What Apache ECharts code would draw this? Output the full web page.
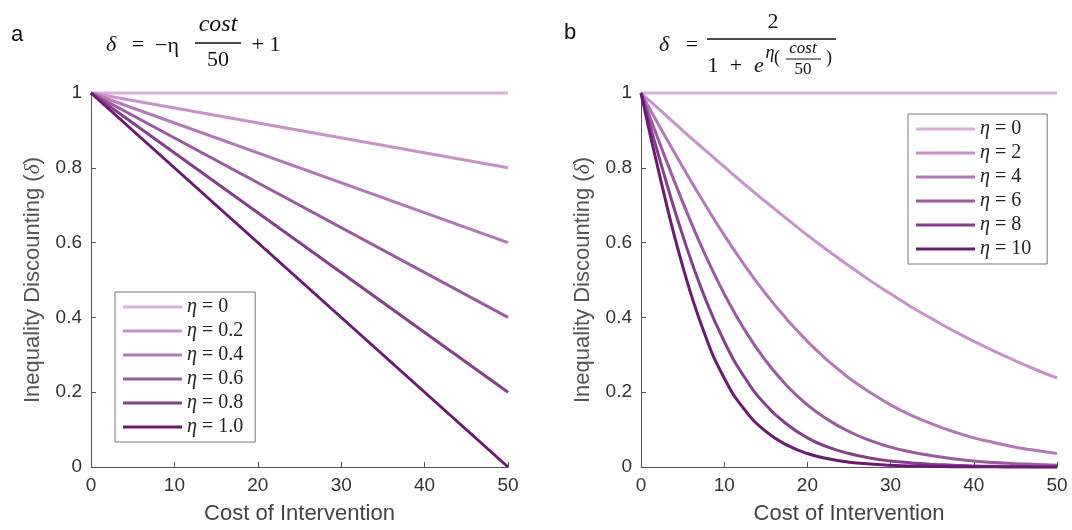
<!DOCTYPE html>
<html>
<head>
<meta charset="utf-8">
<script src="https://cdn.jsdelivr.net/npm/echarts@6/dist/echarts.min.js"></script>
<style>
  html, body { margin: 0; padding: 0; background: #fff; }
  #chart { width: 1072px; height: 530px; }
</style>
</head>
<body>
<div id="chart"></div>
<script>
// panel a: straight lines, read at both ends
var costA = [0, 50];
var etaA = ['0', '0.2', '0.4', '0.6', '0.8', '1.0'];
var linA = [
  [1, 1],
  [1, 0.8],
  [1, 0.6],
  [1, 0.4],
  [1, 0.2],
  [1, 0]
];

// panel b: curves, read every 2.5 of cost
var costB = [0, 2.5, 5, 7.5, 10, 12.5, 15, 17.5, 20, 22.5, 25, 27.5, 30, 32.5, 35, 37.5, 40, 42.5, 45, 47.5, 50];
var etaB = ['0', '2', '4', '6', '8', '10'];
var eta0 = [1, 1, 1, 1, 1, 1, 1, 1, 1, 1, 1, 1, 1, 1, 1, 1, 1, 1, 1, 1, 1];
var eta2 = [1, 0.950, 0.900, 0.851, 0.803, 0.755, 0.709, 0.664, 0.620, 0.578, 0.538, 0.499, 0.463, 0.428, 0.396, 0.365, 0.336, 0.309, 0.284, 0.260, 0.238];
var eta4 = [1, 0.900, 0.803, 0.709, 0.620, 0.538, 0.463, 0.396, 0.336, 0.284, 0.238, 0.200, 0.166, 0.138, 0.115, 0.095, 0.078, 0.065, 0.053, 0.044, 0.036];
var eta6 = [1, 0.851, 0.709, 0.578, 0.463, 0.365, 0.284, 0.218, 0.166, 0.126, 0.095, 0.071, 0.053, 0.040, 0.030, 0.022, 0.016, 0.012, 0.009, 0.007, 0.005];
var eta8 = [1, 0.803, 0.620, 0.463, 0.336, 0.238, 0.166, 0.115, 0.078, 0.053, 0.036, 0.024, 0.016, 0.011, 0.007, 0.005, 0.003, 0.002, 0.0015, 0.001, 0.0007];
var eta10 = [1, 0.755, 0.538, 0.365, 0.238, 0.152, 0.095, 0.059, 0.036, 0.022, 0.013, 0.008, 0.005, 0.003, 0.002, 0.001, 0.0007, 0.0004, 0.0002, 0.0001, 0.0001];
var curvesB = [eta0, eta2, eta4, eta6, eta8, eta10];

var colors = ['#dcaede', '#c991cc', '#b478b8', '#9c5ba1', '#863f8c', '#6b1a72'];

var xTicks = [0, 10, 20, 30, 40, 50];
var yTicks = [0, 0.2, 0.4, 0.6, 0.8, 1];

var sans = '"Liberation Sans", Arial, sans-serif';
var serif = '"Liberation Serif", "DejaVu Serif", serif';

function pairs(xs, ys) {
  var out = [];
  for (var i = 0; i < xs.length; i++) out.push([xs[i], ys[i]]);
  return out;
}

function makeX(idx) {
  return {
    gridIndex: idx, type: 'value', min: xTicks[0], max: xTicks[xTicks.length - 1], interval: 10,
    name: 'Cost of Intervention', nameLocation: 'middle', nameGap: 36,
    nameTextStyle: { fontFamily: sans, fontSize: 22, color: '#444' },
    axisLine: { lineStyle: { color: '#555', width: 1 } },
    axisTick: { inside: true, length: 5, lineStyle: { color: '#555' } },
    axisLabel: { fontFamily: sans, fontSize: 19, color: '#333', margin: 9 },
    splitLine: { show: false }
  };
}
function makeY(idx) {
  return {
    gridIndex: idx, type: 'value', min: yTicks[0], max: yTicks[yTicks.length - 1], interval: 0.2,
    name: 'Inequality Discounting ({d|δ})', nameLocation: 'middle', nameGap: 47,
    nameTextStyle: {
      fontFamily: sans, fontSize: 22, color: '#555',
      rich: { d: { fontFamily: serif, fontStyle: 'italic', fontSize: 22, color: '#555' } }
    },
    axisLine: { show: true, lineStyle: { color: '#555', width: 1 } },
    axisTick: { show: true, inside: true, length: 5, lineStyle: { color: '#555' } },
    axisLabel: { fontFamily: sans, fontSize: 19, color: '#333', margin: 9 },
    splitLine: { show: false }
  };
}

var series = [];
for (var i = 0; i < etaA.length; i++) {
  series.push({
    name: 'a' + etaA[i], type: 'line', xAxisIndex: 0, yAxisIndex: 0,
    data: pairs(costA, linA[i]), showSymbol: false, clip: false,
    color: colors[i], lineStyle: { width: 3, color: colors[i] }
  });
}
for (var j = 0; j < etaB.length; j++) {
  series.push({
    name: 'b' + etaB[j], type: 'line', xAxisIndex: 1, yAxisIndex: 1,
    data: pairs(costB, curvesB[j]), showSymbol: false, clip: false,
    smooth: true,
    color: colors[j], lineStyle: { width: 3, color: colors[j] }
  });
}

function legendFor(prefix, list, left, top, padRight) {
  return {
    orient: 'vertical', left: left, top: top,
    data: list.map(function (e) { return prefix + e; }),
    icon: 'rect', itemWidth: 59, itemHeight: 3, itemGap: 4,
    padding: [5, padRight, 5, 8],
    borderColor: '#777', borderWidth: 1, backgroundColor: '#fff',
    formatter: function (name) { return '{i|η} = ' + name.slice(1); },
    textStyle: {
      fontFamily: serif, fontSize: 20, color: '#222', lineHeight: 20,
      rich: { i: { fontFamily: serif, fontStyle: 'italic', fontSize: 20, color: '#222', lineHeight: 20 } }
    },
    selectedMode: false
  };
}

function txt(x, y, s, font, align) {
  return {
    type: 'text', x: x, y: y,
    style: { text: s, font: font, fill: '#111', align: align || 'center', verticalAlign: 'middle' }
  };
}
function bar(x1, x2, y, w) {
  return { type: 'line', shape: { x1: x1, y1: y, x2: x2, y2: y }, style: { stroke: '#111', lineWidth: w } };
}

var f22 = '22px ' + serif;
var f22i = 'italic 22px ' + serif;
var f17i = 'italic 17px ' + serif;
var f17 = '17px ' + serif;

var graphic = [
  txt(17, 35, 'a', '22px ' + sans),
  txt(570, 33, 'b', '22px ' + sans),
  // a: δ = −η cost/50 + 1
  txt(111, 45, 'δ', f22i),
  txt(138, 45, '=', f22),
  txt(167, 46, '−η', f22),
  txt(218, 25, 'cost', 'italic 24px ' + serif),
  bar(195, 241, 43, 1.5),
  txt(218, 60, '50', f22),
  txt(266, 45, '+ 1', f22),
  // b: δ = 2 / (1 + e^{η(cost/50)})
  txt(664, 45, 'δ', f22i),
  txt(692, 45, '=', f22),
  txt(773, 22, '2', f22),
  bar(707, 836, 39, 1.5),
  txt(713, 66, '1', f22),
  txt(736, 66, '+', f22),
  txt(759, 66, 'e', f22i),
  txt(770, 53, 'η', 'italic 18px ' + serif),
  txt(777, 58, '(', '18px ' + serif),
  txt(803, 49, 'cost', f17i),
  bar(786, 821, 59, 1),
  txt(803, 70, '50', f17),
  txt(829, 58, ')', '18px ' + serif)
];

var chart = echarts.init(document.getElementById('chart'), null, { renderer: 'canvas' });
chart.setOption({
  backgroundColor: '#fff',
  animation: false,
  grid: [
    { left: 91, right: 564, top: 93, bottom: 62, containLabel: false },
    { left: 641, right: 15, top: 93, bottom: 62, containLabel: false }
  ],
  xAxis: [makeX(0), makeX(1)],
  yAxis: [makeY(0), makeY(1)],
  legend: [
    legendFor('a', etaA, 115, 292, 12),
    legendFor('b', etaB, 908, 114, 16)
  ],
  graphic: graphic,
  series: series
});
</script>
</body>
</html>
